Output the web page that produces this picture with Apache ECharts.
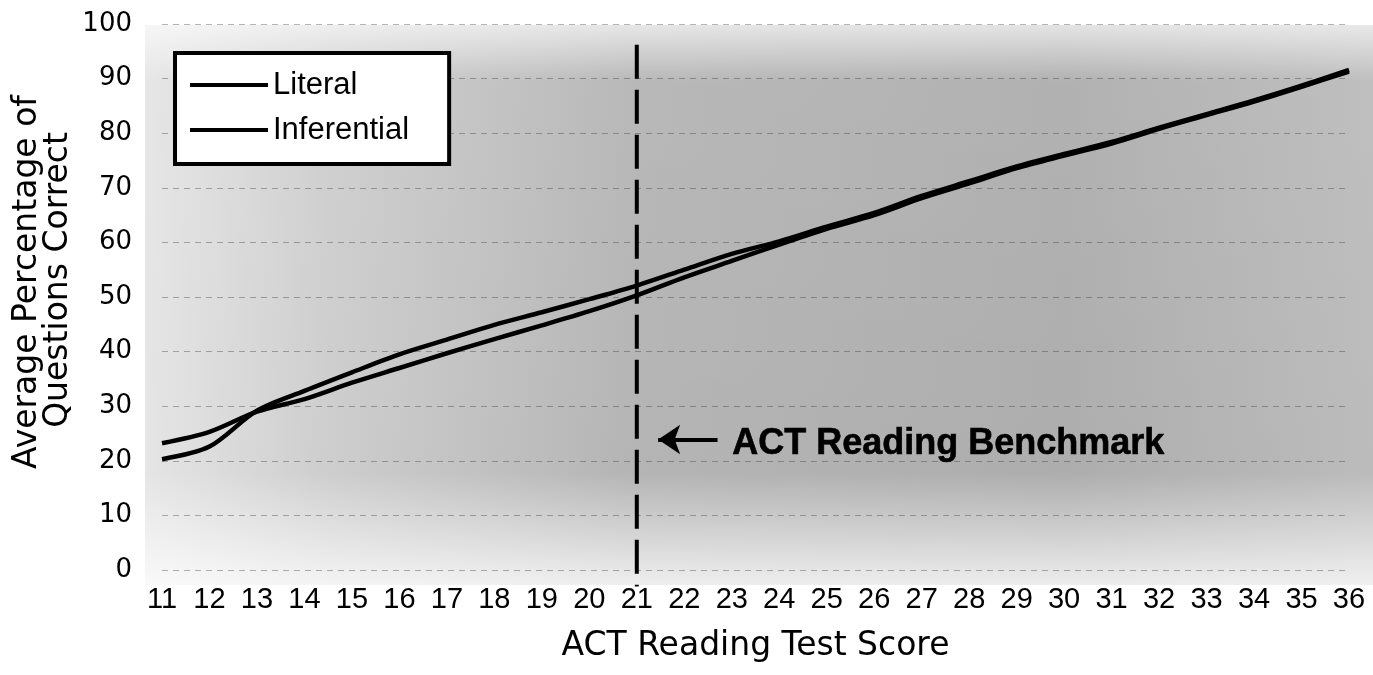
<!DOCTYPE html>
<html>
<head>
<meta charset="utf-8">
<script src="https://cdn.jsdelivr.net/npm/echarts@6/dist/echarts.min.js"></script>
<style>
html,body{margin:0;padding:0;background:#fff;}
#chart{width:1373px;height:675px;}
</style>
</head>
<body>
<div id="chart"></div>
<script>
// ---- data ----
var scores = [11,12,13,14,15,16,17,18,19,20,21,22,23,24,25,26,27,28,29,30,31,32,33,34,35,36];
var literal = [20.3,22.6,29.2,32.8,36.2,39.5,42.2,44.9,47.2,49.6,52.1,55.0,57.9,60.2,62.9,65.4,68.5,71.2,73.9,76.2,78.4,81.0,83.5,86.0,88.7,91.6];
var inferential = [23.2,25.3,29.0,31.3,34.3,37.0,39.7,42.3,44.8,47.4,50.3,53.6,56.6,59.6,62.5,65.0,68.1,70.8,73.6,75.9,78.1,80.8,83.3,85.8,88.5,91.3];
var yTicks = [0,10,20,30,40,50,60,70,80,90,100];
var benchmarkScore = 21;
var benchmarkSpan = [96.2, -3.0];      // top and bottom of the dashed benchmark line (y values)
var arrowSpan = [22.7, 21.45];         // arrow tail and head (x values)
var arrowLevel = 23.9;                 // arrow y value
var benchmarkText = 'ACT Reading Benchmark';
var benchmarkTextAt = [23.0, 23.0];
var seriesNames = ['Literal','Inferential'];
var xTitle = 'ACT Reading Test Score';
var yTitle1 = 'Average Percentage of';
var yTitle2 = 'Questions Correct';

function pairs(xs, ys){ return xs.map(function(x,i){ return [x, ys[i]]; }); }

var chart = echarts.init(document.getElementById('chart'));
var option = {
  animation: false,
  backgroundColor: '#ffffff',
  grid: { left: 162, right: 24, top: 24, bottom: 105 },
  xAxis: {
    type: 'value', min: 11, max: 36, interval: 1,
    axisLine: { show: false }, axisTick: { show: false }, splitLine: { show: false },
    axisLabel: { fontSize: 29, color: '#000', margin: 15, fontFamily: 'Liberation Sans, Arial, sans-serif' },
    name: xTitle, nameLocation: 'middle', nameGap: 60,
    nameTextStyle: { fontSize: 33, color: '#000', fontFamily: 'DejaVu Sans, sans-serif' }
  },
  yAxis: {
    type: 'value', min: 0, max: 100, interval: 10,
    axisLine: { show: false }, axisTick: { show: false },
    splitLine: { show: true, lineStyle: { color: 'rgba(40,40,40,0.35)', type: [6,5], width: 1 } },
    axisLabel: { fontSize: 26, color: '#000', margin: 30, fontFamily: 'DejaVu Sans, sans-serif',
      formatter: function(v){ return yTicks.indexOf(v) >= 0 ? String(v) : ''; } }
  },
  legend: {
    orient: 'vertical', left: 175, top: 53,
    data: seriesNames,
    icon: 'rect', itemWidth: 78, itemHeight: 4, itemGap: 9,
    padding: [14, 40, 16, 15],
    backgroundColor: '#ffffff', borderColor: '#000', borderWidth: 4,
    textStyle: { fontSize: 31, color: '#000', lineHeight: 36, fontFamily: 'Liberation Sans, Arial, sans-serif' }
  },
  graphic: [
    { type: 'rect', z: -10, silent: true,
      shape: { x: 145, y: 25, width: 1228, height: 560 },
      style: { fill: new echarts.graphic.LinearGradient(0, 0, 1, 0, [
        { offset: 0, color: '#e2e2e2' }, { offset: 0.15, color: '#c8c8c8' },
        { offset: 0.4, color: '#acacac' }, { offset: 0.75, color: '#a4a4a4' }, { offset: 1, color: '#b4b4b4' }]) } },
    { type: 'rect', z: -9, silent: true,
      shape: { x: 145, y: 25, width: 1228, height: 560 },
      style: { fill: new echarts.graphic.LinearGradient(0, 0, 0, 1, [
        { offset: 0, color: 'rgba(255,255,255,0.7)' }, { offset: 0.1, color: 'rgba(255,255,255,0.15)' },
        { offset: 0.8, color: 'rgba(255,255,255,0.1)' }, { offset: 1, color: 'rgba(255,255,255,0.8)' }]) } },
    { type: 'text', z: 10, rotation: Math.PI / 2, x: 27, y: 282,
      style: { text: yTitle1, fontSize: 33, fill: '#000', align: 'center', verticalAlign: 'middle', fontFamily: 'DejaVu Sans, sans-serif' } },
    { type: 'text', z: 10, rotation: Math.PI / 2, x: 58, y: 280,
      style: { text: yTitle2, fontSize: 33, fill: '#000', align: 'center', verticalAlign: 'middle', fontFamily: 'DejaVu Sans, sans-serif' } }
  ],
  series: [
    {
      name: seriesNames[0], type: 'line', data: pairs(scores, literal),
      smooth: 0.3, showSymbol: false, symbol: 'none', clip: false, z: 3,
      lineStyle: { color: '#000', width: 4.5 }, itemStyle: { color: '#000' }
    },
    {
      name: seriesNames[1], type: 'line', data: pairs(scores, inferential),
      smooth: 0.3, showSymbol: false, symbol: 'none', clip: false, z: 3,
      lineStyle: { color: '#000', width: 4.5 }, itemStyle: { color: '#000' },
      markLine: {
        silent: true, symbol: ['none', 'arrow'], symbolSize: 22, animation: false,
        label: { show: false },
        itemStyle: { color: '#000' },
        lineStyle: { color: '#000', width: 4, type: 'solid' },
        data: [[ { coord: [arrowSpan[0], arrowLevel] }, { coord: [arrowSpan[1], arrowLevel] } ]]
      },
      markPoint: {
        silent: true, animation: false,
        symbol: 'circle', symbolSize: 1, itemStyle: { color: 'rgba(0,0,0,0)' },
        label: { show: true, position: 'right', distance: 0, formatter: benchmarkText,
          fontSize: 36, fontWeight: 'bold', color: '#000', textBorderColor: '#000', textBorderWidth: 0.6,
          fontFamily: 'Liberation Sans, Arial, sans-serif' },
        data: [ { coord: benchmarkTextAt } ]
      }
    },
    {
      name: 'benchmark', type: 'line', data: [[benchmarkScore, benchmarkSpan[0]], [benchmarkScore, benchmarkSpan[1]]],
      showSymbol: false, symbol: 'none', clip: false, silent: true, z: 2,
      lineStyle: { color: '#000', width: 4, type: [34, 11] }
    }
  ]
};
chart.setOption(option);
</script>
</body>
</html>
